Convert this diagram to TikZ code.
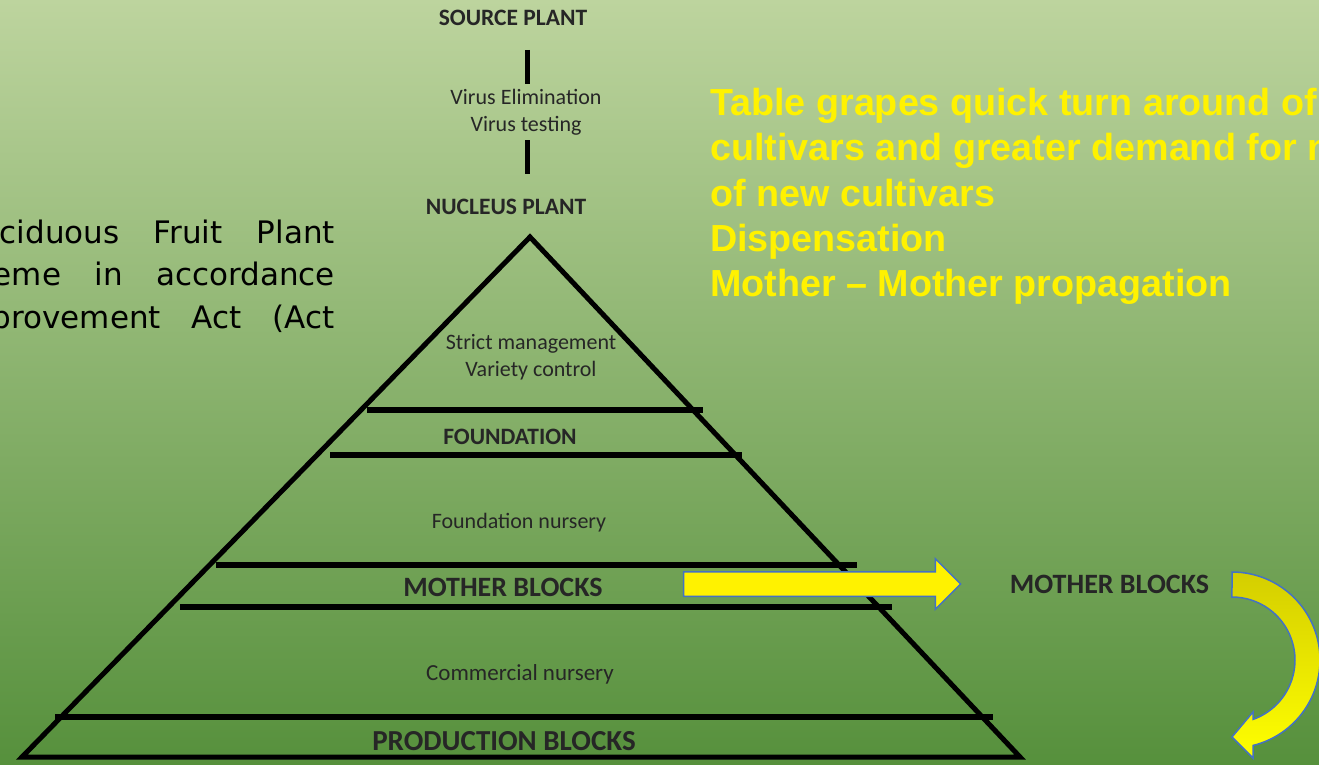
\documentclass[tikz,border=0pt]{standalone}
\usepackage{fontspec}
\setmainfont{Carlito}
\newfontfamily\grapefont{Liberation Sans}
\newfontfamily\casualfont{DejaVu Sans}
\usetikzlibrary{positioning,shapes.arrows}

\definecolor{bgtop}{RGB}{189,212,158}
\definecolor{bgmid}{RGB}{150,186,110}
\definecolor{bgbot}{RGB}{86,144,60}
\definecolor{textgray}{RGB}{38,38,38}
\definecolor{arrowblue}{RGB}{68,114,196}
\definecolor{curvetop}{RGB}{212,206,0}

\tikzset{
 plaintext/.style={text=textgray,align=center,inner sep=0,font=\fontsize{22}{27}\selectfont},
 tiertext/.style={text=textgray,inner sep=0,font=\bfseries\fontsize{23.5}{28}\selectfont},
 bigtier/.style={text=textgray,inner sep=0,font=\bfseries\fontsize{28}{32}\selectfont},
 tierline/.style={line width=6pt},
 bar/.style={line width=5pt},
 casual/.style={inner sep=0,font=\casualfont\fontsize{31}{42}\selectfont},
}

\begin{document}
\begin{tikzpicture}[x=1pt,y=-1pt]
 \useasboundingbox (0,0) rectangle (1319,765);
 \shade[top color=bgtop,middle color=bgmid,bottom color=bgbot] (0,0) rectangle (1319,765);

 % top of the scheme
 \node[tiertext] (source) at (513,18) {SOURCE PLANT};
 \node[plaintext] (virus) at (526,112) {Virus Elimination\\Virus testing};
 \node[tiertext] (nucleus) at (506,207) {NUCLEUS PLANT};
 \draw[bar] (527,50) -- (527,84);
 \draw[bar] (527,140) -- (527,174);

 % pyramid
 \draw[line width=5pt,line join=miter] (530,237) -- (1020,757) -- (22,757) -- cycle;
 \draw[tierline] (367,410) -- (703,410);
 \draw[tierline] (330,455) -- (742,455);
 \draw[tierline] (216,565) -- (857,565);
 \draw[tierline] (180,607) -- (892,607);
 \draw[tierline] (55,717) -- (993,717);

 \node[plaintext] (strict) at (531,357) {Strict management\\Variety control};
 \node[tiertext] (foundation) at (510,437) {FOUNDATION};
 \node[plaintext] (foundnursery) at (519,523) {Foundation nursery};
 \node[bigtier] (mother) at (503,587) {MOTHER BLOCKS};
 \node[plaintext,font=\fontsize{23}{27}\selectfont] (commnursery) at (520,674) {Commercial nursery};
 \node[bigtier,font=\bfseries\fontsize{29}{32}\selectfont] (production) at (504,741) {PRODUCTION BLOCKS};

 % arrows on the right
 \node[single arrow,draw=arrowblue,line width=1.5pt,fill=yellow,inner sep=0,
       text height=0pt,text depth=0pt,inner ysep=11.5pt,minimum height=277pt,
       single arrow head extend=13pt] (arrowright) at (816,584) {};
 \node[bigtier] (mother2) [right=48pt of arrowright] {MOTHER BLOCKS};
 \path[draw=arrowblue,line width=1.5pt,top color=curvetop,bottom color=yellow]
  (1232,572) arc[start angle=-90,end angle=76.2,radius=88] -- (1253,758) -- (1232,737)
  -- (1253,712) -- (1253,719.4) arc[start angle=70.5,end angle=-90,radius=63] -- cycle;

 % text blocks
 \node[text=yellow,align=left,inner sep=0,anchor=north west,
       font=\grapefont\bfseries\fontsize{37.7}{45.3}\selectfont] (grapes) at (710,88)
  {Table grapes quick turn around of\\cultivars and greater demand for n\\of new cultivars\\Dispensation\\Mother – Mother propagation};

 \node[casual,anchor=base east] (scheme1) at (335,243) {\hbox to 335pt{ciduous\hfill Fruit\hfill Plant}};
 \node[casual,anchor=base east] (scheme2) at (335,285) {\hbox to 342pt{eme\hfill in\hfill accordance}};
 \node[casual,anchor=base east] (scheme3) at (335,328) {\hbox to 343pt{provement\hfill Act\hfill (Act}};
\end{tikzpicture}
\end{document}
